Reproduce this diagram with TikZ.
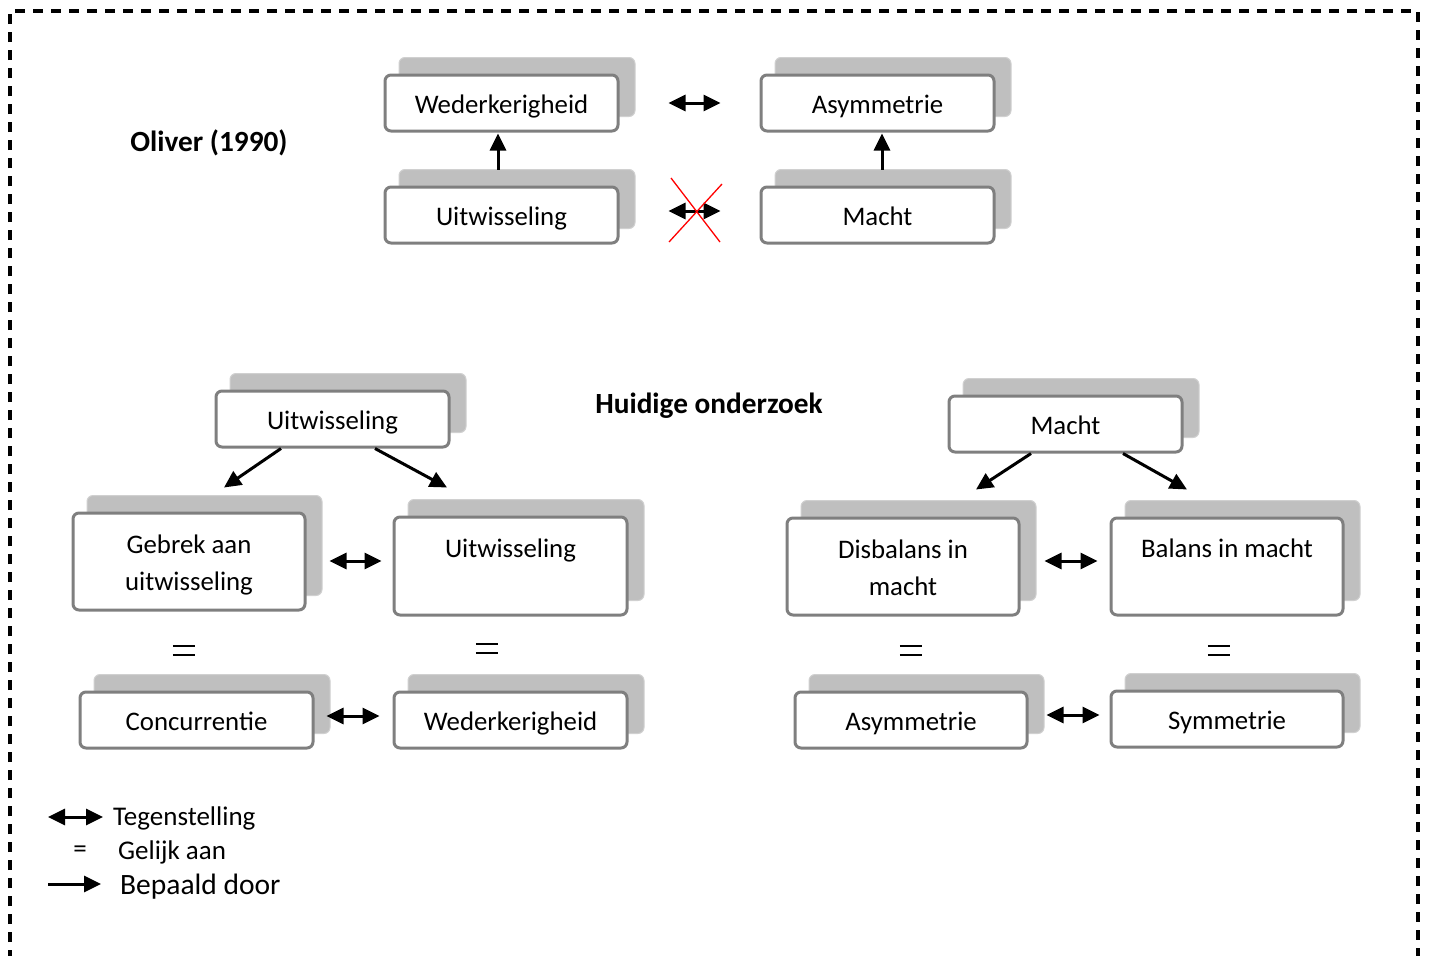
\documentclass[tikz,border=0pt]{standalone}
\usepackage{fontspec}
\setmainfont{Carlito}
\usetikzlibrary{arrows.meta,backgrounds}
\definecolor{boxline}{HTML}{7F7F7F}
\definecolor{shade}{HTML}{BFBFBF}
\definecolor{shadeline}{HTML}{D0D0D0}
\tikzset{
  front/.style={draw=boxline, line width=3pt, rounded corners=6pt, fill=white,
    inner sep=0pt, align=center, font=\fontsize{26.8}{37}\selectfont,
    text height=21pt, text depth=0pt},
  shadowbox/.style={fill=shade, draw=shadeline, line width=1pt, rounded corners=6pt},
  tip/.tip={Triangle[length=17pt,width=16pt]},
  arr/.style={line width=3pt, -tip},
  darr/.style={line width=3pt, tip-tip},
  eqline/.style={line width=2pt},
  title/.style={font=\fontsize{29.3}{34}\selectfont\bfseries},
  legend/.style={font=\fontsize{27}{31}\selectfont, anchor=west, inner sep=0pt},
}
\newcommand{\shadowof}[1]{\draw[shadowbox] ([xshift=15.5pt,yshift=16pt]#1.south west) rectangle ([xshift=15.5pt,yshift=16pt]#1.north east);}
\begin{document}
\begin{tikzpicture}[x=1pt,y=-1pt]
\useasboundingbox (0,0) rectangle (1430,956);
% dashed frame
\coordinate (fbl) at (10,960);
\coordinate (ftl) at (10,11);
\coordinate (ftr) at (1418,11);
\coordinate (fbr) at (1418,960);
\draw[line width=3.2pt, dash pattern=on 10pt off 8pt] (fbl) -- (ftl) -- (ftr) -- (fbr);

% top section
\node[title] (oliver) at (209,143) {Oliver (1990)};
\node[front, minimum width=233, minimum height=56] (w1) at (501.5,103) {Wederkerigheid};
\node[front, minimum width=233, minimum height=56] (u1) at (501.5,215) {Uitwisseling};
\node[front, minimum width=233, minimum height=56] (a1) at (877.5,103) {Asymmetrie};
\node[front, minimum width=233, minimum height=56] (m1) at (877.5,215) {Macht};

% lower left
\node[title] (huidig) at (709,405.5) {Huidige onderzoek};
\node[front, minimum width=233, minimum height=56] (u2) at (332.5,419) {Uitwisseling};
\node[front, minimum width=232, minimum height=97, text height=57pt] (g2) at (189,561.5) {Gebrek aan\\uitwisseling};
\node[front, minimum width=233, minimum height=98, text height=0pt, text depth=18pt] (u3) at (510.5,566) {Uitwisseling};
\node[front, minimum width=233, minimum height=56] (c2) at (196.5,720) {Concurrentie};
\node[front, minimum width=233, minimum height=56] (w2) at (510.5,720) {Wederkerigheid};

% lower right
\node[front, minimum width=233, minimum height=56] (m2) at (1065.5,424) {Macht};
\node[front, minimum width=232, minimum height=97, text height=57pt] (d2) at (903,566.5) {Disbalans in\\macht};
\node[front, minimum width=232, minimum height=97, text height=0pt, text depth=18pt] (b2) at (1227,566.5) {Balans in macht};
\node[front, minimum width=232, minimum height=56] (a2) at (911,720) {Asymmetrie};
\node[front, minimum width=232, minimum height=56] (s2) at (1227,719) {Symmetrie};

\begin{scope}[on background layer]
\foreach \n in {w1,u1,a1,m1,u2,g2,u3,c2,w2,m2,d2,b2,a2,s2} {\shadowof{\n}}
\end{scope}

% top connectors
\draw[arr] ([xshift=-3.5pt,yshift=16pt]u1.north) -- ([xshift=-3.5pt,yshift=-1pt]w1.south);
\draw[arr] ([xshift=4.5pt,yshift=16pt]m1.north) -- ([xshift=4.5pt,yshift=-1pt]a1.south);
\draw[darr] ([xshift=49pt]w1.east) -- ([xshift=-39pt]a1.west);
\draw[darr] ([xshift=49pt,yshift=4pt]u1.east) -- ([xshift=-39pt,yshift=4pt]m1.west);
\coordinate (x1a) at (671,178);
\coordinate (x1b) at (720,242);
\coordinate (x2a) at (722,184);
\coordinate (x2b) at (669,242);
\draw[red, line width=1.3pt] (x1a) -- (x1b);
\draw[red, line width=1.3pt] (x2a) -- (x2b);

% lower-left connectors
\draw[arr] ([xshift=-51.5pt]u2.south) -- ([xshift=35pt,yshift=24pt]g2.north);
\draw[arr] ([xshift=42.5pt]u2.south) -- ([xshift=-63.5pt,yshift=28pt]u3.north);
\draw[darr] ([xshift=23pt,yshift=0.5pt]g2.east) -- ([xshift=-11pt,yshift=5pt]u3.west);
\draw[darr] ([xshift=12pt,yshift=4pt]c2.east) -- ([xshift=-13pt,yshift=4pt]w2.west);

% lower-right connectors
\draw[arr] ([xshift=-34.5pt]m2.south) -- ([xshift=73pt,yshift=27pt]d2.north);
\draw[arr] ([xshift=57.5pt]m2.south) -- ([xshift=-40pt,yshift=27pt]b2.north);
\draw[darr] ([xshift=24pt,yshift=5.5pt]d2.east) -- ([xshift=-12pt,yshift=5.5pt]b2.west);
\draw[darr] ([xshift=18pt,yshift=5pt]a2.east) -- ([xshift=-10pt,yshift=4pt]s2.west);

% equal signs
\node[inner sep=0pt, minimum width=22pt, minimum height=9pt] (e1) at (184,650.5) {};
\node[inner sep=0pt, minimum width=22pt, minimum height=9pt] (e2) at (487,648.5) {};
\node[inner sep=0pt, minimum width=22pt, minimum height=9pt] (e3) at (911,650.5) {};
\node[inner sep=0pt, minimum width=22pt, minimum height=9pt] (e4) at (1219,650.5) {};
\foreach \e in {e1,e2,e3,e4} {
  \draw[eqline] (\e.north west) -- (\e.north east);
  \draw[eqline] (\e.south west) -- (\e.south east);
}

% legend
\coordinate (l1a) at (48,817);
\coordinate (l1b) at (103,817);
\draw[darr] (l1a) -- (l1b);
\node[legend] (lt1) at (113,818) {Tegenstelling};
\node[font=\fontsize{27}{31}\selectfont, inner sep=0pt] (leq) at (80,852) {=};
\node[legend] (lt2) at (118,852) {Gelijk aan};
\coordinate (l3a) at (48,884);
\coordinate (l3b) at (101,884);
\draw[arr] (l3a) -- (l3b);
\node[legend, font=\fontsize{29.5}{34}\selectfont] (lt3) at (120,887) {Bepaald door};
\end{tikzpicture}
\end{document}
